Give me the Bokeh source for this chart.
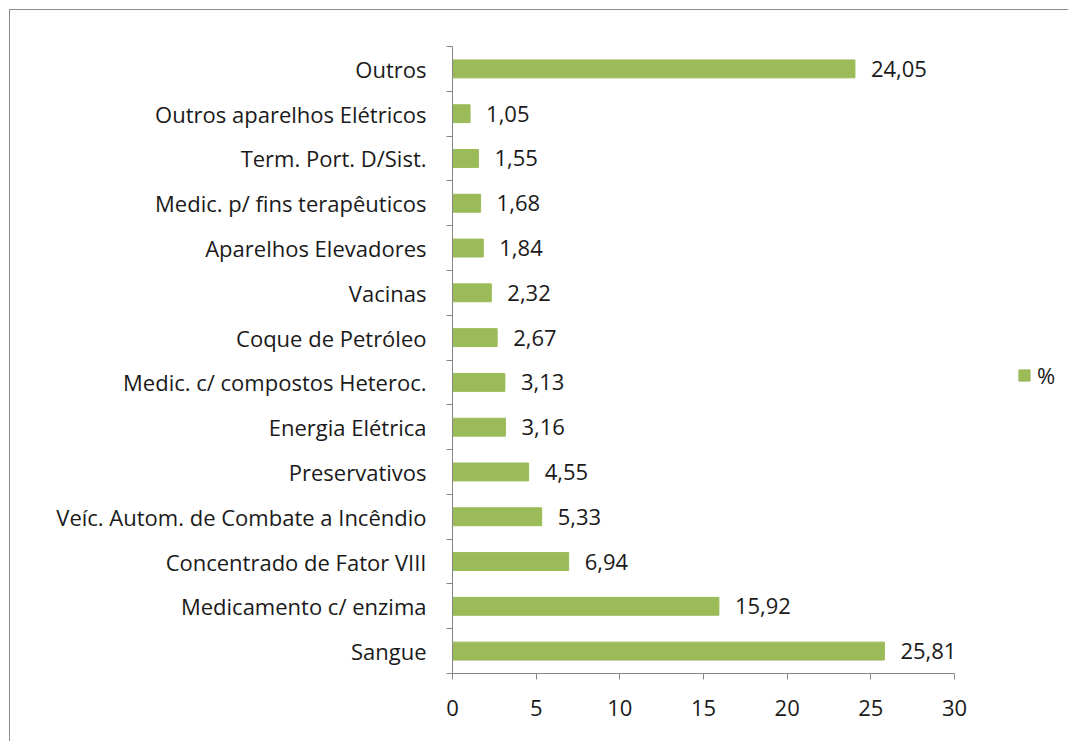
from bokeh.plotting import figure
from bokeh.models import FixedTicker, Range1d, Legend, LegendItem, ColumnDataSource
from bokeh.core.properties import value
from bokeh.embed import file_html
from bokeh.resources import INLINE

categories = ["Sangue", "Medicamento c/ enzima", "Concentrado de Fator VIII",
              "Veíc. Autom. de Combate a Incêndio", "Preservativos", "Energia Elétrica",
              "Medic. c/ compostos Heteroc.", "Coque de Petróleo", "Vacinas",
              "Aparelhos Elevadores", "Medic. p/ fins terapêuticos", "Term. Port. D/Sist.",
              "Outros aparelhos Elétricos", "Outros"]
values = [25.81, 15.92, 6.94, 5.33, 4.55, 3.16, 3.13, 2.67, 2.32, 1.84, 1.68, 1.55, 1.05, 24.05]
x_ticks = [0, 5, 10, 15, 20, 25, 30]
series_name = "%"

FONT = "Open Sans"
FS = "22px"
GREEN = "#9bbb59"
AXIS = "#868686"
TXT = "#1a1a1a"

W, H = 1068, 741
BL, BT, BB = 452, 46, 68
AXIS_PX = 502  # pixel length of the 0..30 axis
frame_w = W - BL
x_max = x_ticks[-1] * frame_w / AXIS_PX

n = len(categories)
ypos = [i + 0.5 for i in range(n)]
labels = [f"{v:.2f}".replace(".", ",") for v in values]
src = ColumnDataSource(dict(y=ypos, v=values, lab=labels, cat=categories))

p = figure(width=W, height=H, output_backend="svg", toolbar_location=None,
           x_range=Range1d(0, x_max), y_range=Range1d(0, n),
           min_border_left=BL, min_border_right=0, min_border_top=BT, min_border_bottom=BB)
# outer chart border (left & top edges) painted behind the transparent canvas border area
p.styles = {"background": "linear-gradient(#8c8c8c, #8c8c8c) 9px 9px / 1px 100% no-repeat, "
                          "linear-gradient(#8c8c8c, #8c8c8c) 9px 9px / 100% 1px no-repeat, "
                          "white"}
p.outline_line_color = None
p.grid.visible = False
p.background_fill_color = "white"
p.border_fill_alpha = 0

r = p.hbar(y="y", right="v", left=0, height=0.4, source=src, fill_color=GREEN,
           line_color=GREEN)
p.text(x="v", y="y", text="lab", source=src, x_offset=16, text_baseline="middle",
       text_align="left", text_font=value(FONT), text_font_size=FS, text_color=TXT)

xa = p.xaxis[0]
xa.ticker = FixedTicker(ticks=x_ticks)
xa.bounds = (x_ticks[0], x_ticks[-1])
xa.axis_line_color = AXIS
xa.major_tick_line_color = AXIS
xa.major_tick_out = 6
xa.major_tick_in = 0
xa.minor_tick_line_color = None
xa.major_label_text_font = FONT
xa.major_label_text_font_size = FS
xa.major_label_text_color = TXT
xa.major_label_standoff = 20

ya = p.yaxis[0]
ya.ticker = FixedTicker(ticks=ypos, minor_ticks=list(range(n + 1)))
ya.major_label_overrides = {y: c for y, c in zip(ypos, categories)}
ya.axis_line_color = AXIS
ya.major_tick_line_color = None
ya.major_tick_out = 0
ya.major_tick_in = 0
ya.minor_tick_line_color = AXIS
ya.minor_tick_out = 6
ya.minor_tick_in = 0
ya.major_label_text_font = FONT
ya.major_label_text_font_size = FS
ya.major_label_text_color = TXT
ya.major_label_standoff = 20

legend = Legend(items=[LegendItem(label=series_name, renderers=[r])],
                location=(565, 283), glyph_width=14, glyph_height=14, label_height=14,
                label_standoff=6, padding=0, margin=0, spacing=0, border_line_color=None,
                background_fill_alpha=0, label_text_font=FONT,
                label_text_font_size=FS, label_text_color=TXT)
p.add_layout(legend, "center")

open("out.html", "w").write(file_html(p, INLINE))
